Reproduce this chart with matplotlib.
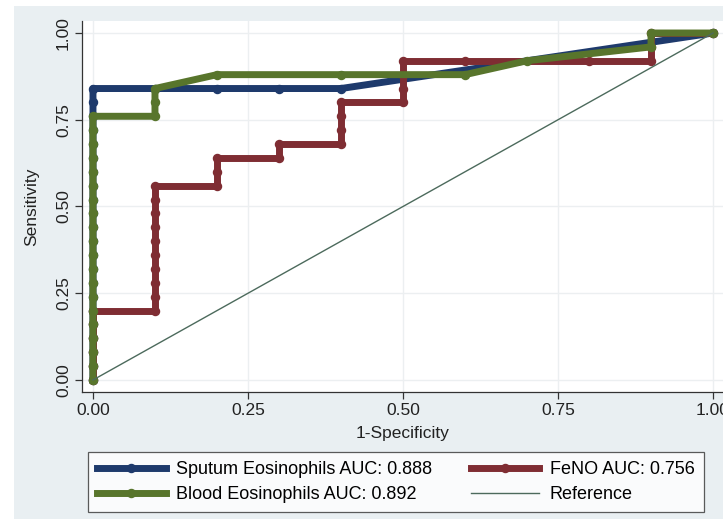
import matplotlib
matplotlib.use("Agg")
import matplotlib.pyplot as plt
from matplotlib.patches import Rectangle
from matplotlib.lines import Line2D

plt.rcParams['font.family'] = ['Liberation Sans', 'DejaVu Sans']

# ROC coordinates (1-specificity, sensitivity)
sputum_fpr = [0, 0, 0, 0, 0, 0, 0, 0, 0, 0, 0, 0, 0, 0, 0, 0, 0, 0, 0, 0, 0, 0,
              0.1, 0.2, 0.3, 0.4, 1.0]
sputum_sens = [0.00, 0.04, 0.08, 0.12, 0.16, 0.20, 0.24, 0.28, 0.32, 0.36, 0.40,
               0.44, 0.48, 0.52, 0.56, 0.60, 0.64, 0.68, 0.72, 0.76, 0.80, 0.84,
               0.84, 0.84, 0.84, 0.84, 1.00]

feno_fpr = [0, 0, 0, 0, 0, 0,
            0.1, 0.1, 0.1, 0.1, 0.1, 0.1, 0.1, 0.1, 0.1, 0.1,
            0.2, 0.2, 0.2, 0.3, 0.3, 0.4, 0.4, 0.4, 0.4,
            0.5, 0.5, 0.5, 0.5, 0.6, 0.8, 0.9, 0.9, 0.9, 1.0]
feno_sens = [0.00, 0.04, 0.08, 0.12, 0.16, 0.20,
             0.20, 0.24, 0.28, 0.32, 0.36, 0.40, 0.44, 0.48, 0.52, 0.56,
             0.56, 0.60, 0.64, 0.64, 0.68, 0.68, 0.72, 0.76, 0.80,
             0.80, 0.84, 0.88, 0.92, 0.92, 0.92, 0.92, 0.96, 1.00, 1.00]

blood_fpr = [0, 0, 0, 0, 0, 0, 0, 0, 0, 0, 0, 0, 0, 0, 0, 0, 0, 0, 0, 0,
             0.1, 0.1, 0.1, 0.2, 0.4, 0.6, 0.7, 0.9, 0.9, 1.0]
blood_sens = [0.00, 0.04, 0.08, 0.12, 0.16, 0.20, 0.24, 0.28, 0.32, 0.36, 0.40,
              0.44, 0.48, 0.52, 0.56, 0.60, 0.64, 0.68, 0.72, 0.76,
              0.76, 0.80, 0.84, 0.88, 0.88, 0.88, 0.92, 0.96, 1.00, 1.00]

ref_line = [0, 1]
ticks = [0.00, 0.25, 0.50, 0.75, 1.00]
tick_labels = ["0.00", "0.25", "0.50", "0.75", "1.00"]

labels = ["Sputum Eosinophils AUC: 0.888", "FeNO AUC: 0.756",
          "Blood Eosinophils AUC: 0.892", "Reference"]

navy = "#1e3a6c"
maroon = "#7f2d33"
green = "#58752c"
refc = "#4c6a5c"
bg = "#e9eff2"

W, H = 723, 519
fig = plt.figure(figsize=(W / 100, H / 100), dpi=100)
fig.patch.set_facecolor("white")
fig.patches.append(Rectangle((14 / W, 0), 1, 1 - 6 / H, transform=fig.transFigure,
                             facecolor=bg, edgecolor="none", zorder=-10))

x0, x1, ytop, ybot = 82, 724, 21, 392
ax = fig.add_axes([x0 / W, 1 - ybot / H, (x1 - x0) / W, (ybot - ytop) / H])
ax.set_facecolor("white")

lw, ms = 5.0, 5.8
ax.plot(sputum_fpr, sputum_sens, color=navy, lw=lw, marker="o", ms=ms, zorder=3)
ax.plot(feno_fpr, feno_sens, color=maroon, lw=lw, marker="o", ms=ms, zorder=4)
ax.plot(blood_fpr, blood_sens, color=green, lw=lw, marker="o", ms=ms, zorder=5)
ax.plot(ref_line, ref_line, color=refc, lw=1.0, zorder=6)

ax.set_xlim(-0.0177, 1.0177)
ax.set_ylim(-0.0346, 1.0346)
ax.set_xticks(ticks)
ax.set_xticklabels(tick_labels)
ax.set_yticks(ticks)
ax.set_yticklabels(tick_labels, rotation=90, va="center")
ax.grid(True, color="#eceff1", lw=1.0)
ax.set_axisbelow(True)
for side in ["top", "right"]:
    ax.spines[side].set_visible(False)
for side in ["left", "bottom"]:
    ax.spines[side].set_color("#333333")
    ax.spines[side].set_linewidth(0.9)
ax.tick_params(direction="out", length=5, width=0.9, color="#333333",
               labelsize=12.5, labelcolor="#222222", pad=3)
ax.set_xlabel("1-Specificity", fontsize=12.5, color="#222222", labelpad=6)
ax.set_ylabel("Sensitivity", fontsize=12.5, color="#222222", labelpad=12)

handles = [
    Line2D([], [], color=navy, lw=lw, marker="o", ms=ms, markevery=[1]),
    Line2D([], [], color=green, lw=lw, marker="o", ms=ms, markevery=[1]),
    Line2D([], [], color=maroon, lw=lw, marker="o", ms=ms, markevery=[1]),
    Line2D([], [], color=refc, lw=1.0),
]
for h in handles:
    h.set_xdata([0, 0.5, 1])
    h.set_ydata([0, 0, 0])
leg = fig.legend(handles, [labels[0], labels[2], labels[1], labels[3]],
                 ncol=2, loc="upper left",
                 bbox_to_anchor=(88 / W, 1 - 452 / H),
                 fontsize=13, frameon=True, fancybox=False, handlelength=3.8,
                 handletextpad=0.6, borderaxespad=0, labelspacing=0.45,
                 columnspacing=2.1, borderpad=0.5)
leg.get_frame().set_edgecolor("#333333")
leg.get_frame().set_linewidth(0.9)

fig.savefig("out.png", dpi=100, facecolor=fig.get_facecolor())
